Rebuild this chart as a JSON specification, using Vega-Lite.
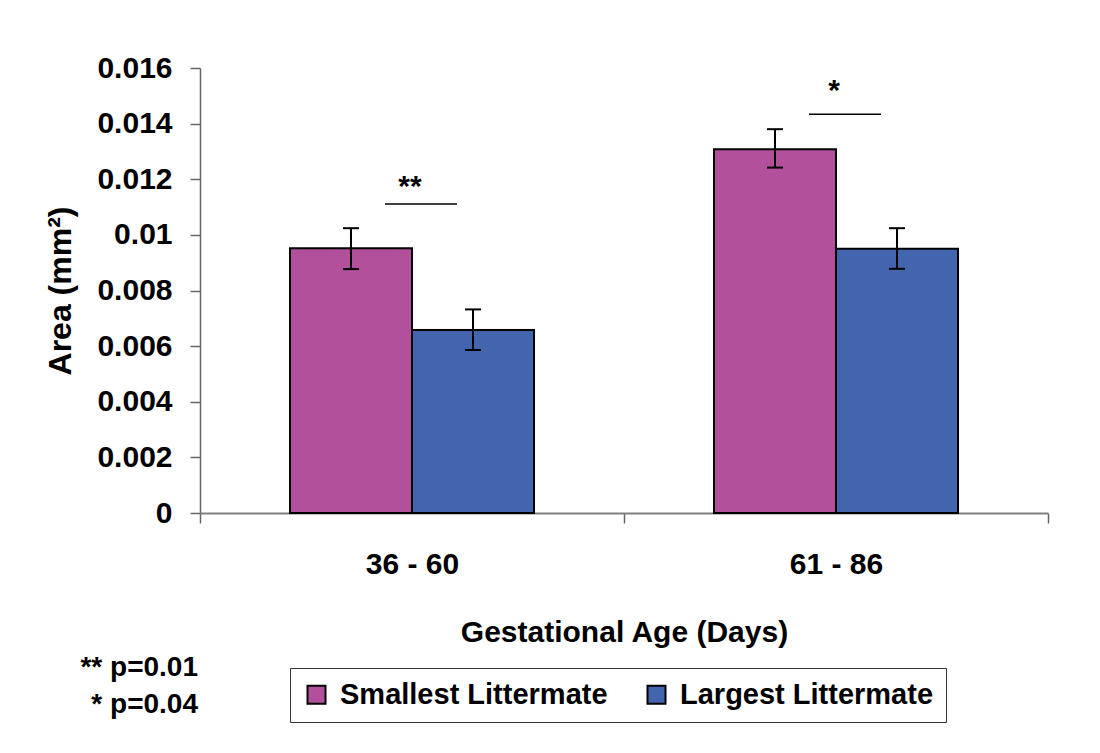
{
  "$schema": "https://vega.github.io/schema/vega-lite/v6.json",
  "autosize": {"type": "none"},
  "width": 848,
  "height": 445,
  "padding": {"left": 200, "top": 68, "right": 52, "bottom": 240},
  "background": "white",
  "config": {
    "font": "Liberation Sans",
    "view": {"stroke": null},
    "axis": {
      "labelFont": "Liberation Sans",
      "labelFontSize": 30,
      "labelFontWeight": "bold",
      "labelColor": "black",
      "titleFont": "Liberation Sans",
      "titleFontSize": 30,
      "titleFontWeight": "bold",
      "titleColor": "black",
      "grid": false,
      "domainColor": "#666666",
      "domainWidth": 1.5,
      "tickColor": "#666666",
      "tickWidth": 1.5,
      "tickSize": 10
    }
  },
  "datasets": {
    "bars": [
      {"age": "36 - 60", "group": "Smallest Littermate", "mean": 0.00952, "lo": 0.00877, "hi": 0.01024},
      {"age": "36 - 60", "group": "Largest Littermate", "mean": 0.00658, "lo": 0.00586, "hi": 0.00732},
      {"age": "61 - 86", "group": "Smallest Littermate", "mean": 0.01308, "lo": 0.01242, "hi": 0.0138},
      {"age": "61 - 86", "group": "Largest Littermate", "mean": 0.0095, "lo": 0.00878, "hi": 0.01024}
    ],
    "sig": [
      {"age": "36 - 60", "line": 0.01111, "star": 0.0114, "label": "**"},
      {"age": "61 - 86", "line": 0.01434, "star": 0.01485, "label": "*"}
    ]
  },
  "layer": [
    {
      "data": {"name": "bars"},
      "mark": {"type": "bar", "stroke": "black", "strokeWidth": 2},
      "encoding": {
        "x": {
          "field": "age", "type": "nominal",
          "scale": {"paddingInner": 0, "paddingOuter": 0},
          "axis": {
            "title": "Gestational Age (Days)",
            "labelAngle": 0,
            "tickBand": "extent",
            "labelPadding": 26,
            "titlePadding": 38,
            "domainColor": "#808080",
            "domainWidth": 2
          }
        },
        "xOffset": {
          "field": "group", "type": "nominal",
          "sort": ["Smallest Littermate", "Largest Littermate"],
          "scale": {"paddingInner": 0, "paddingOuter": 0.7377}
        },
        "y": {
          "field": "mean", "type": "quantitative",
          "scale": {"domain": [0, 0.016], "nice": false},
          "axis": {
            "title": "Area (mm²)",
            "titleFontSize": 32,
            "values": [0, 0.002, 0.004, 0.006, 0.008, 0.01, 0.012, 0.014, 0.016],
            "format": ".3~f",
            "labelPadding": 18,
            "titlePadding": 19
          }
        },
        "color": {
          "field": "group", "type": "nominal",
          "sort": ["Smallest Littermate", "Largest Littermate"],
          "scale": {"domain": ["Smallest Littermate", "Largest Littermate"], "range": ["#B2509B", "#4365AE"]},
          "legend": {
            "title": null,
            "orient": "none",
            "legendX": 90,
            "legendY": 600,
            "direction": "horizontal",
            "symbolType": "square",
            "symbolSize": 324,
            "symbolStrokeColor": "black",
            "symbolStrokeWidth": 2,
            "symbolOpacity": 1,
            "labelFont": "Liberation Sans",
            "labelFontSize": 29,
            "labelFontWeight": "bold",
            "labelColor": "black",
            "labelLimit": 0,
            "labelOffset": 9,
            "columnPadding": 34,
            "padding": 12,
            "strokeColor": "#333333",
            "fillColor": "white"
          }
        }
      }
    },
    {
      "data": {"name": "bars"},
      "mark": {"type": "rule", "color": "black", "strokeWidth": 2},
      "encoding": {
        "x": {"field": "age", "type": "nominal"},
        "xOffset": {"field": "group", "type": "nominal", "sort": ["Smallest Littermate", "Largest Littermate"]},
        "y": {"field": "lo", "type": "quantitative"},
        "y2": {"field": "hi"}
      }
    },
    {
      "data": {"name": "bars"},
      "mark": {"type": "tick", "color": "black", "size": 16, "thickness": 2, "opacity": 1},
      "encoding": {
        "x": {"field": "age", "type": "nominal"},
        "xOffset": {"field": "group", "type": "nominal", "sort": ["Smallest Littermate", "Largest Littermate"]},
        "y": {"field": "lo", "type": "quantitative"}
      }
    },
    {
      "data": {"name": "bars"},
      "mark": {"type": "tick", "color": "black", "size": 16, "thickness": 2, "opacity": 1},
      "encoding": {
        "x": {"field": "age", "type": "nominal"},
        "xOffset": {"field": "group", "type": "nominal", "sort": ["Smallest Littermate", "Largest Littermate"]},
        "y": {"field": "hi", "type": "quantitative"}
      }
    },
    {
      "data": {"name": "sig"},
      "mark": {"type": "tick", "color": "black", "size": 72, "thickness": 1.5, "opacity": 1, "xOffset": 9},
      "encoding": {
        "x": {"field": "age", "type": "nominal"},
        "y": {"field": "line", "type": "quantitative"}
      }
    },
    {
      "data": {"name": "sig"},
      "mark": {"type": "text", "color": "black", "font": "Liberation Sans", "fontSize": 30, "fontWeight": "bold", "baseline": "alphabetic", "dx": -2},
      "encoding": {
        "x": {"field": "age", "type": "nominal"},
        "y": {"field": "star", "type": "quantitative"},
        "text": {"field": "label"}
      }
    }
  ],
  "title": {
    "text": ["** p=0.01", "* p=0.04"],
    "orient": "bottom",
    "anchor": "start",
    "align": "right",
    "frame": "group",
    "font": "Liberation Sans",
    "fontSize": 28,
    "fontWeight": "bold",
    "color": "black",
    "lineHeight": 37,
    "offset": -69,
    "dx": -2
  }
}
